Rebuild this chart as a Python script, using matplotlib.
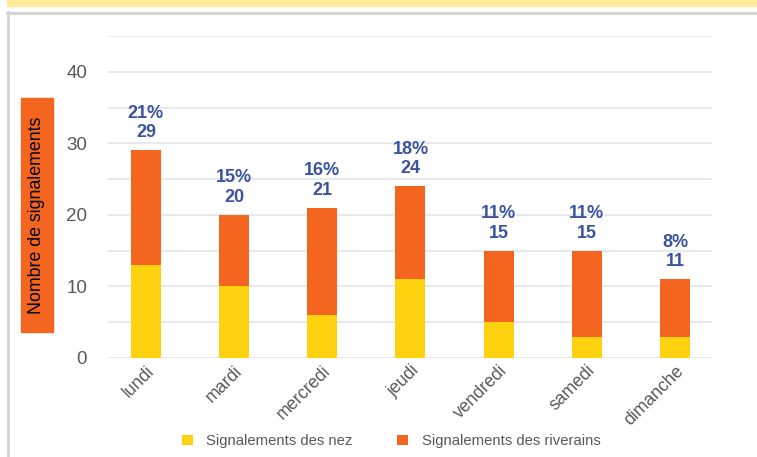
import matplotlib.pyplot as plt
from matplotlib.patches import Rectangle

# données
jours = ["lundi", "mardi", "mercredi", "jeudi", "vendredi", "samedi", "dimanche"]
nez = [13, 10, 6, 11, 5, 3, 3]
riverains = [16, 10, 15, 13, 10, 12, 8]
pourcentages = ["21%", "15%", "16%", "18%", "11%", "11%", "8%"]

JAUNE = "#FFD20F"
ORANGE = "#F4661F"
BLEU = "#3B54A0"
GRIS = "#595959"

plt.rcParams["font.family"] = ["Liberation Sans", "DejaVu Sans"]

fig = plt.figure(figsize=(7.57, 4.57), dpi=100)
W, H = 757, 457

# bandeau jaune et cadre gris
fig.patches.append(Rectangle((7 / W, 1 - 6 / H), 1, 6 / H, transform=fig.transFigure,
                             color="#FFEC99", zorder=0))
fig.add_artist(plt.Line2D([8 / W, 8 / W], [0, 1 - 12 / H], transform=fig.transFigure,
                          color="#D3D3D3", lw=2))
fig.add_artist(plt.Line2D([7 / W, 1], [1 - 13 / H, 1 - 13 / H], transform=fig.transFigure,
                          color="#D3D3D3", lw=2))

ax = fig.add_axes([108 / W, 1 - 358 / H, 604 / W, 322 / H])

x = range(len(jours))
b1 = ax.bar(x, nez, width=0.34, color=JAUNE, label="Signalements des nez", zorder=3)
b2 = ax.bar(x, riverains, width=0.34, bottom=nez, color=ORANGE,
            label="Signalements des riverains", zorder=3)

for i in x:
    total = nez[i] + riverains[i]
    ax.annotate(f"{pourcentages[i]}\n{total}", (i, total), xytext=(0, 6.5),
                textcoords="offset points", ha="center", va="bottom",
                fontsize=13, fontweight="bold", color=BLEU, linespacing=1.2)

ax.set_xlim(-0.43, 6.42)
ax.set_ylim(0, 45)
ax.set_yticks(range(0, 50, 10))
ax.set_yticks(range(0, 50, 5), minor=True)
ax.grid(axis="y", which="both", color="#E1E5EA", lw=1.2, zorder=0)
ax.tick_params(axis="y", which="both", length=0, labelsize=13.5, labelcolor=GRIS, pad=15)
ax.tick_params(axis="x", length=0, labelsize=12.7, labelcolor=GRIS, pad=3)
ax.set_xticks(list(x))
ax.set_xticklabels(jours, rotation=45, ha="right", rotation_mode="anchor")
for s in ax.spines.values():
    s.set_visible(False)

# titre de l'axe dans un cadre orange
fig.patches.append(Rectangle((21 / W, 1 - 332 / H), 32 / W, 234 / H,
                             transform=fig.transFigure, color=ORANGE, zorder=1))
fig.text(37 / W, 1 - 215 / H, "Nombre de signalements", rotation=90, ha="center",
         va="center", fontsize=12.8, color="black")

fig.legend(handles=[b1, b2], loc="center", bbox_to_anchor=(391 / W, 1 - 441 / H),
           ncol=2, frameon=False, fontsize=10.7, labelcolor=GRIS, handlelength=0.75,
           handleheight=0.7, handletextpad=0.9, columnspacing=3.0)

plt.savefig("out.png", dpi=100)
